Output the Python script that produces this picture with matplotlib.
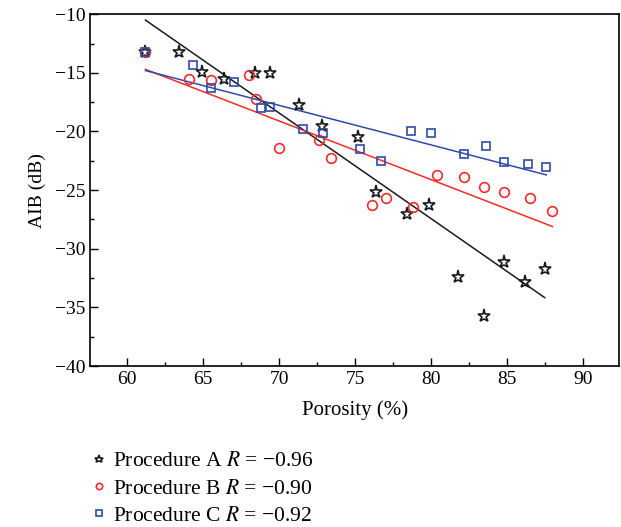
import numpy as np
import matplotlib.pyplot as plt

plt.rcParams['font.family'] = ['Liberation Serif', 'DejaVu Serif']
plt.rcParams['mathtext.fontset'] = 'stix'

# Procedure A (stars)
por_A = [61.2, 63.4, 64.9, 66.4, 68.4, 69.4, 71.3, 72.8, 75.2, 76.4, 78.4,
         79.9, 81.8, 83.5, 84.8, 86.2, 87.5]
aib_A = [-13.25, -13.2, -14.9, -15.5, -15.0, -15.0, -17.7, -19.5, -20.5, -25.2,
         -27.0, -26.3, -32.4, -35.7, -31.1, -32.8, -31.7]

# Procedure B (circles)
por_B = [61.2, 64.1, 65.5, 68.0, 68.5, 70.0, 72.6, 73.4, 76.1, 77.05, 78.8,
         80.4, 82.2, 83.5, 84.8, 86.5, 88.0]
aib_B = [-13.25, -15.5, -15.6, -15.2, -17.2, -21.4, -20.7, -22.25, -26.3,
         -25.7, -26.4, -23.7, -23.9, -24.7, -25.2, -25.7, -26.8]

# Procedure C (squares)
por_C = [61.2, 64.3, 65.5, 67.0, 68.8, 69.4, 71.6, 72.9, 75.3, 76.7, 78.7,
         80.0, 82.2, 83.6, 84.8, 86.4, 87.6]
aib_C = [-13.25, -14.3, -16.3, -15.8, -18.0, -17.9, -19.8, -20.1, -21.5,
         -22.5, -19.95, -20.1, -21.9, -21.2, -22.6, -22.8, -23.0]

# linear fits (intercept, slope)
fit_A = [44.58, -0.90]
fit_B = [15.9, -0.50]
fit_C = [5.82, -0.337]

labels = ['Procedure A $R$ = \u22120.96',
          'Procedure B $R$ = \u22120.90',
          'Procedure C $R$ = \u22120.92']

black = '#1a1a1a'
red = '#f42a2a'
blue = '#2f4aa8'

fig = plt.figure(figsize=(6.21, 5.27), dpi=100)
ax = fig.add_axes([0.145, 0.3055, 0.852, 0.6675])

series = [(por_A, aib_A, fit_A, black, '*', 9.5),
          (por_B, aib_B, fit_B, red, 'o', 7),
          (por_C, aib_C, fit_C, blue, 's', 6)]
handles = []
for x, y, fit, c, m, ms in series:
    x = np.array(x)
    xs = np.array([x.min(), x.max()])
    ax.plot(xs, fit[0] + fit[1] * xs, color=c, lw=1.1, zorder=2)
for x, y, fit, c, m, ms in series:
    h, = ax.plot(x, y, ls='none', marker=m, ms=ms, mfc='none', mec=c,
                 mew=1.2, zorder=3)
    handles.append(h)

ax.set_xlim(57.55, 92.4)
ax.set_ylim(-40, -10)
ax.set_xticks([60, 65, 70, 75, 80, 85, 90])
ax.set_yticks([-40, -35, -30, -25, -20, -15, -10])
ax.set_xticks(np.arange(62.5, 92, 5), minor=True)
ax.set_yticks(np.arange(-37.5, -10, 5), minor=True)
ax.set_yticklabels([f'\u2212{abs(v)}' for v in [-40, -35, -30, -25, -20, -15, -10]])
ax.tick_params(which='both', direction='in', labelsize=14, width=1)
ax.tick_params(which='major', length=6)
ax.tick_params(which='minor', length=3)
for s in ax.spines.values():
    s.set_linewidth(1.2)

ax.set_xlabel('Porosity (%)', fontsize=15, labelpad=9)
ax.set_ylabel('AIB (dB)', fontsize=14, labelpad=6)

fig.legend(handles, labels, loc='upper left', bbox_to_anchor=(0.131, 0.16),
           bbox_transform=fig.transFigure, frameon=False, fontsize=15.5,
           markerscale=0.65, handlelength=0.8, handletextpad=0.25,
           labelspacing=0.33, borderaxespad=0)

fig.savefig('out.png', dpi=100)
